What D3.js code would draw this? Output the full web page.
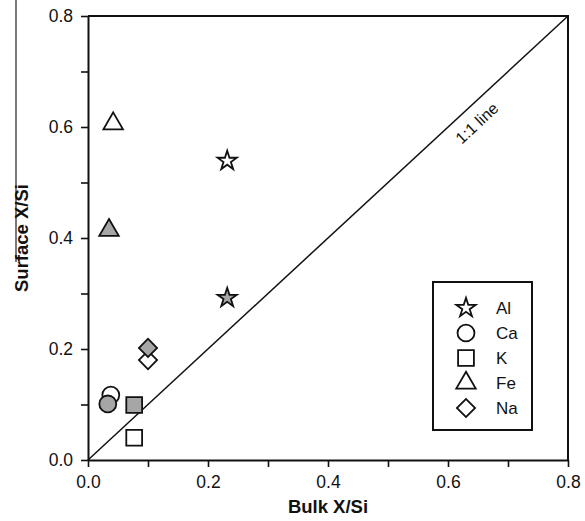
<!DOCTYPE html>
<html>
<head>
<meta charset="utf-8">
<script src="https://cdn.jsdelivr.net/npm/d3@7"></script>
<style>
    body { margin: 0; background: #fff; }
    text { font-family: "Liberation Sans", Arial, sans-serif; fill: #111; }
</style>
</head>
<body>
<div id="content"></div>
<script>
// elements plotted (one open + one filled marker each)
const elements = ["Al", "Ca", "K", "Fe", "Na"];
const openBulk = [0.232, 0.038, 0.077, 0.042, 0.100];
const openSurface = [0.539, 0.117, 0.040, 0.606, 0.180];
const filledBulk = [0.232, 0.033, 0.077, 0.035, 0.100];
const filledSurface = [0.292, 0.101, 0.099, 0.414, 0.202];
const tickValues = [0, 0.1, 0.2, 0.3, 0.4, 0.5, 0.6, 0.7, 0.8];
const xTitle = "Bulk X/Si";
const yTitle = "Surface X/Si";
const lineLabel = "1:1 line";

const svgWidth = 585, svgHeight = 521;
const margin = { left: 88, top: 16, right: 17, bottom: 61 };
const width = svgWidth - margin.left - margin.right;
const height = svgHeight - margin.top - margin.bottom;
const grey = "#a6a6a6";
const ink = "#111";

const symbols = {
    Al: { type: d3.symbolStar, size: 115, rot: 0 },
    Ca: { type: d3.symbolCircle, size: 225, rot: 0 },
    K: { type: d3.symbolSquare, size: 250, rot: 0 },
    Fe: { type: d3.symbolTriangle, size: 165, rot: 0 },
    Na: { type: d3.symbolSquare, size: 165, rot: 45 }
};
const symPath = el => d3.symbol().type(symbols[el].type).size(symbols[el].size)();

const svg = d3.select("#content")
    .append("svg")
    .attr("width", svgWidth)
    .attr("height", svgHeight);

// stray panel edge at far left of the source figure
svg.append("line")
    .attr("x1", 16).attr("x2", 16)
    .attr("y1", 0).attr("y2", 262)
    .attr("stroke", "#222")
    .attr("stroke-width", 1.2);

const g = svg.append("g")
    .attr("transform", `translate(${margin.left}, ${margin.top})`);

const x = d3.scaleLinear().domain([0, 0.8]).range([0, width]);
const y = d3.scaleLinear().domain([0, 0.8]).range([height, 0]);

const fmt = d => (Math.round(d * 10) % 2 === 0) ? d3.format(".1f")(d) : "";

// frame (top and right)
g.append("path")
    .attr("d", `M0,${y(0.8)}H${x(0.8)}V${y(0)}`)
    .attr("fill", "none")
    .attr("stroke", ink)
    .attr("stroke-width", 2);

const xAxis = g.append("g")
    .attr("transform", `translate(0, ${height})`)
    .call(d3.axisBottom(x).tickValues(tickValues).tickFormat(fmt)
        .tickSize(7).tickSizeOuter(0).tickPadding(9));

const yAxis = g.append("g")
    .call(d3.axisLeft(y).tickValues(tickValues).tickFormat(fmt)
        .tickSize(7).tickSizeOuter(0).tickPadding(8));

[xAxis, yAxis].forEach(ax => {
    ax.attr("font-size", null).attr("font-family", null);
    ax.selectAll("path.domain").attr("stroke", ink).attr("stroke-width", 2);
    ax.selectAll(".tick line").attr("stroke", ink).attr("stroke-width", 1.6);
    ax.selectAll(".tick text")
        .style("font-size", "17.5px")
        .attr("fill", ink);
});

// axis titles
g.append("text")
    .text(xTitle)
    .attr("x", x(0.4))
    .attr("y", height + 53)
    .style("font-size", "18.5px")
    .style("font-weight", "bold")
    .style("text-anchor", "middle");

g.append("text")
    .text(yTitle)
    .attr("transform", `translate(${28 - margin.left}, ${y(0.4)}) rotate(-90)`)
    .style("font-size", "18.5px")
    .style("font-weight", "bold")
    .style("text-anchor", "middle");

// 1:1 line
g.append("line")
    .attr("x1", x(0)).attr("y1", y(0))
    .attr("x2", x(0.8)).attr("y2", y(0.8))
    .attr("stroke", ink)
    .attr("stroke-width", 1.5);

const angle = Math.atan2(y(0) - y(0.8), x(0.8) - x(0)) * 180 / Math.PI;
g.append("text")
    .text(lineLabel)
    .attr("transform", `translate(${x(0.648)}, ${y(0.607)}) rotate(${-angle})`)
    .style("font-size", "16px")
    .style("text-anchor", "middle")
    .attr("dy", "0.35em");

// markers: open first, filled on top
const pts = g.append("g");
const drawSet = (bulk, surf, fill) => {
    pts.selectAll(null)
        .data(elements.map((el, i) => ({ el, bx: bulk[i], sy: surf[i] })))
        .enter()
        .append("path")
        .attr("d", d => symPath(d.el))
        .attr("transform", d => `translate(${x(d.bx)}, ${y(d.sy)}) rotate(${symbols[d.el].rot})`)
        .attr("fill", fill)
        .attr("stroke", ink)
        .attr("stroke-width", 1.8);
};
drawSet(openBulk, openSurface, "#fff");
drawSet(filledBulk, filledSurface, grey);

// legend
const legX = 433 - margin.left, legY = 282 - margin.top;
const legend = g.append("g").attr("transform", `translate(${legX}, ${legY})`);
legend.append("rect")
    .attr("width", 99).attr("height", 148)
    .attr("fill", "#fff")
    .attr("stroke", ink)
    .attr("stroke-width", 2);

const rows = legend.selectAll("g.row")
    .data(elements)
    .enter()
    .append("g")
    .attr("transform", (d, i) => `translate(0, ${26 + i * 25})`);
rows.append("path")
    .attr("d", d => symPath(d))
    .attr("transform", d => `translate(33, 0) rotate(${symbols[d].rot})`)
    .attr("fill", "#fff")
    .attr("stroke", ink)
    .attr("stroke-width", 1.8);
rows.append("text")
    .text(d => d)
    .attr("x", 63)
    .attr("dy", "0.36em")
    .style("font-size", "17px");
</script>
</body>
</html>
